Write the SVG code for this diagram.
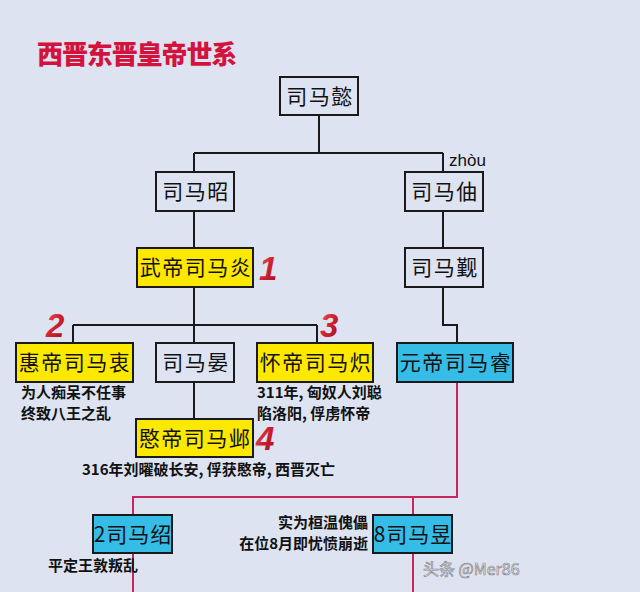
<svg xmlns="http://www.w3.org/2000/svg" width="640" height="592" viewBox="0 0 640 592">
<defs>
<linearGradient id="redg" x1="0" y1="0" x2="1" y2="1">
<stop offset="0" stop-color="#f0606a"/>
<stop offset="0.5" stop-color="#d0202e"/>
<stop offset="1" stop-color="#9a0e1c"/>
</linearGradient>
<style>
.box{stroke:#1a1a1a;stroke-width:2}
.plain{fill:#dde3f0}
.yellow{fill:#fde800}
.cyan{fill:#35bde8}
.nt{font-family:"Noto Sans CJK SC","Noto Sans",sans-serif;font-size:21px;fill:#111;text-anchor:middle}
.note{font-family:"Noto Sans CJK SC","Liberation Sans",sans-serif;font-size:15px;font-weight:bold;fill:#111}
.num{font-family:"Liberation Sans",Arial,sans-serif;font-size:33px;font-weight:bold;font-style:italic;fill:url(#redg)}
.blk{stroke:#1a1a1a;stroke-width:2;fill:none}
.pnk{stroke:#c8265e;stroke-width:2;fill:none}
</style>
</defs>
<rect width="640" height="592" fill="#dde3f0"/>
<text x="37" y="64" font-family="Noto Sans CJK SC,sans-serif" font-size="26" font-weight="900" letter-spacing="-1.1" fill="#d3133d">西晋东晋皇帝世系</text>

<g id="connectors">
<path class="blk" d="M319,115V153M194,153H443M194,153V172M443,153V172M194,211V248M443,211V248M194,287V343M73,325H317M73,325V343M317,325V343M443,287V325H457V343M194,382V419"/>
<path class="pnk" d="M457,382V497H133V515M413,497V515M133,553V592M413,553V592"/>
</g>

<g id="n-yi"><rect class="box plain" x="280" y="77" width="78" height="38"/><text class="nt" x="320" y="104" letter-spacing="1.5">司马懿</text></g>
<g id="n-zhao"><rect class="box plain" x="156" y="172" width="78" height="39"/><text class="nt" x="196" y="199" letter-spacing="1.5">司马昭</text></g>
<g id="n-zhou"><rect class="box plain" x="405" y="172" width="78" height="39"/><text class="nt" x="445" y="199" letter-spacing="1.5">司马伷</text></g>
<text x="449" y="166" font-family="Liberation Sans,Arial,sans-serif" font-size="17" fill="#111">zhòu</text>
<g id="n-yan"><rect class="box yellow" x="137" y="248" width="116" height="39"/><text class="nt" x="196" y="275" letter-spacing="1.5">武帝司马炎</text></g>
<text class="num" x="259" y="280">1</text>
<g id="n-jin"><rect class="box plain" x="405" y="248" width="78" height="39"/><text class="nt" x="445" y="275" letter-spacing="1.5">司马觐</text></g>
<g id="n-zhong"><rect class="box yellow" x="16" y="343" width="117" height="39"/><text class="nt" x="75" y="370" letter-spacing="1.5">惠帝司马衷</text></g>
<text class="num" x="46" y="337">2</text>
<g id="n-yanb"><rect class="box plain" x="156" y="343" width="78" height="39"/><text class="nt" x="196" y="370" letter-spacing="1.5">司马晏</text></g>
<g id="n-chi"><rect class="box yellow" x="257" y="343" width="116" height="39"/><text class="nt" x="316" y="370" letter-spacing="1.5">怀帝司马炽</text></g>
<text class="num" x="320" y="337">3</text>
<g id="n-rui"><rect class="box cyan" x="397" y="343" width="116" height="39"/><text class="nt" x="456" y="370" letter-spacing="1.5">元帝司马睿</text></g>
<text class="note"><tspan x="21" y="398">为人痴呆不任事</tspan><tspan x="21" y="419">终致八王之乱</tspan></text>
<text class="note"><tspan x="257" y="398">311年, 匈奴人刘聪</tspan><tspan x="257" y="419">陷洛阳, 俘虏怀帝</tspan></text>
<g id="n-ye"><rect class="box yellow" x="136" y="419" width="117" height="38"/><text class="nt" x="195" y="446" letter-spacing="1.5">愍帝司马邺</text></g>
<text class="num" x="256" y="450">4</text>
<text class="note" x="82" y="475" font-size="14.5">316年刘曜破长安, 俘获愍帝, 西晋灭亡</text>
<g id="n-shao"><rect class="box cyan" x="93" y="515" width="79" height="38"/><text class="nt" x="133" y="542" letter-spacing="1">2司马绍</text></g>
<g id="n-yu"><rect class="box cyan" x="373" y="515" width="79" height="38"/><text class="nt" x="413" y="542" letter-spacing="1">8司马昱</text></g>
<text class="note" text-anchor="end"><tspan x="368" y="528">实为桓温傀儡</tspan><tspan x="368" y="549">在位8月即忧愤崩逝</tspan></text>
<text class="note" x="48" y="571">平定王敦叛乱</text>
<text x="423" y="575" font-family="Noto Sans CJK SC,Liberation Sans,sans-serif" font-size="16" fill="#f6f6f8" stroke="#8a8a90" stroke-width="0.7">头条 @Mer86</text>
</svg>
